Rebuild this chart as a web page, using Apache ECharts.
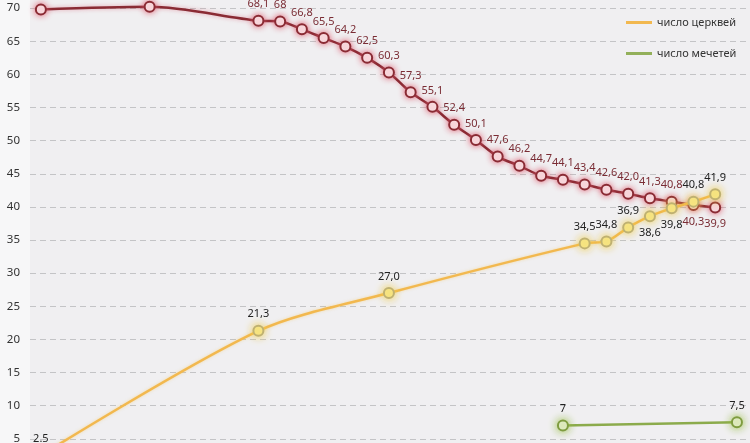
<!DOCTYPE html>
<html>
<head>
<meta charset="utf-8">
<script src="https://cdn.jsdelivr.net/npm/echarts@6/dist/echarts.min.js"></script>
<style>
html,body{margin:0;padding:0;background:#f7f7f8;}
#c{width:750px;height:443px;}
</style>
</head>
<body>
<div id="c"></div>
<script>
// ---- data ----
const redYears = [1988, 1993, 1998, 1999, 2000, 2001, 2002, 2003, 2004, 2005, 2006, 2007, 2008, 2009, 2010, 2011, 2012, 2013, 2014, 2015, 2016, 2017, 2018, 2019];
const redValues = [69.8, 70.2, 68.1, 68, 66.8, 65.5, 64.2, 62.5, 60.3, 57.3, 55.1, 52.4, 50.1, 47.6, 46.2, 44.7, 44.1, 43.4, 42.6, 42.0, 41.3, 40.8, 40.3, 39.9];
const redLabels = ['69,8', '70,2', '68,1', '68', '66,8', '65,5', '64,2', '62,5', '60,3', '57,3', '55,1', '52,4', '50,1', '47,6', '46,2', '44,7', '44,1', '43,4', '42,6', '42,0', '41,3', '40,8', '40,3', '39,9'];

const churchYears = [1988, 1998, 2004, 2013, 2014, 2015, 2016, 2017, 2018, 2019];
const churchValues = [2.5, 21.3, 27.0, 34.5, 34.8, 36.9, 38.6, 39.8, 40.8, 41.9];
const churchLabels = ['2.5', '21,3', '27,0', '34,5', '34,8', '36,9', '38,6', '39,8', '40,8', '41,9'];

const mosqueYears = [2012, 2020];
const mosqueValues = [7, 7.5];
const mosqueLabels = ['7', '7,5'];

const yTicks = [0, 5, 10, 15, 20, 25, 30, 35, 40, 45, 50, 55, 60, 65, 70, 75];

const nameRed = 'показатель';
const nameChurch = 'число церквей';
const nameMosque = 'число мечетей';

// ---- chart ----
const chart = echarts.init(document.getElementById('c'), null, {renderer: 'canvas'});
const FONT = 'Noto Sans';

function build(years, values, labels, belowFn) {
  return years.map((y, i) => ({
    value: [y, values[i]],
    label: {position: belowFn(i) ? 'bottom' : 'top', formatter: labels[i]}
  }));
}

const option = {
  animation: false,
  backgroundColor: '#f7f7f8',
  grid: {
    left: 30, right: 0, top: -25, height: 497,
    outerBoundsMode: 'none', containLabel: false,
    show: true, backgroundColor: '#f0eff1', borderWidth: 0
  },
  legend: {
    orient: 'vertical',
    left: 626, top: 17,
    padding: 0,
    itemGap: 20,
    itemWidth: 26, itemHeight: 3,
    icon: 'rect',
    textStyle: {fontFamily: FONT, fontSize: 11, color: '#333'},
    data: [
      {name: nameChurch, itemStyle: {color: '#f2b84f', borderWidth: 0, shadowBlur: 0}},
      {name: nameMosque, itemStyle: {color: '#93b05a', borderWidth: 0, shadowBlur: 0}}
    ]
  },
  xAxis: {
    type: 'value', min: 1987.5, max: 2020.6, show: false
  },
  yAxis: {
    type: 'value', min: yTicks[0], max: yTicks[yTicks.length - 1], interval: 5,
    axisLine: {show: false}, axisTick: {show: false},
    axisLabel: {fontFamily: FONT, fontSize: 11.5, color: '#333', margin: 10},
    splitLine: {show: true, lineStyle: {color: '#c4c4c6', type: [6, 4], width: 1}}
  },
  series: [
    {
      name: nameRed, type: 'line', smooth: 0.3, clip: false, z: 3,
      symbol: 'circle', symbolSize: 10,
      data: build(redYears, redValues, redLabels, i => i >= redYears.length - 2),
      lineStyle: {color: '#8a2b34', width: 2.5, shadowColor: 'rgba(220,110,130,0.6)', shadowBlur: 4},
      itemStyle: {color: '#ffffff', borderColor: '#8a2b34', borderWidth: 2, shadowColor: 'rgba(225,90,110,0.9)', shadowBlur: 6},
      label: {show: true, fontFamily: FONT, fontSize: 11, color: '#7a2c34', distance: 5}
    },
    {
      name: nameChurch, type: 'line', smooth: 0.3, clip: false, z: 4,
      symbol: 'circle', symbolSize: 10,
      data: build(churchYears, churchValues, churchLabels, i => i === 6 || i === 7),
      lineStyle: {color: '#f2b84f', width: 2.5, shadowColor: 'rgba(245,200,90,0.5)', shadowBlur: 3},
      itemStyle: {color: '#f8ea92', borderColor: '#bfb171', borderWidth: 2, shadowColor: 'rgba(240,205,70,0.95)', shadowBlur: 8},
      label: {show: true, fontFamily: FONT, fontSize: 11, color: '#222', distance: 5}
    },
    {
      name: nameMosque, type: 'line', smooth: 0.3, clip: false, z: 4,
      symbol: 'circle', symbolSize: 10,
      data: build(mosqueYears, mosqueValues, mosqueLabels, i => false),
      lineStyle: {color: '#8cab4c', width: 2.5},
      itemStyle: {color: '#f3f6e4', borderColor: '#7f9c40', borderWidth: 2, shadowColor: 'rgba(150,190,60,0.95)', shadowBlur: 8},
      label: {show: true, fontFamily: FONT, fontSize: 11, color: '#222', distance: 5}
    }
  ]
};
chart.setOption(option);
</script>
</body>
</html>
